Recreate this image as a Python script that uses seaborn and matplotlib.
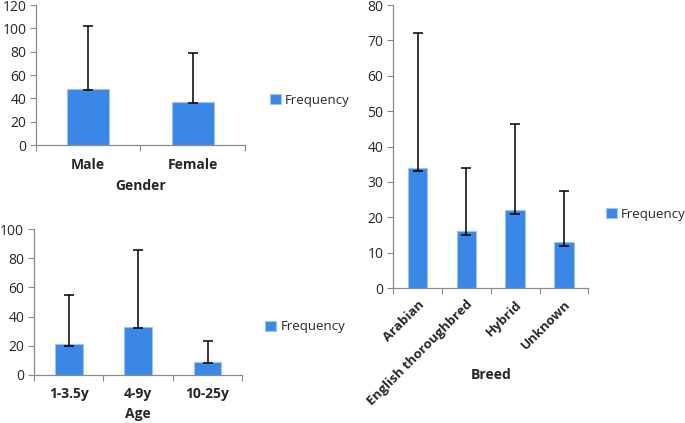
import numpy as np
import pandas as pd
import matplotlib
matplotlib.use("Agg")
import matplotlib.pyplot as plt
import seaborn as sns

# --- data ---
gender_cats = ["Male", "Female"]
gender_freq = [48, 37]
gender_low = [47, 36]
gender_high = [102, 78.5]

age_cats = ["1-3.5y", "4-9y", "10-25y"]
age_freq = [21, 33, 9]
age_low = [20, 32, 8]
age_high = [54.5, 85.5, 23]

breed_cats = ["Arabian", "English thoroughbred", "Hybrid", "Unknown"]
breed_freq = [34, 16, 22, 13]
breed_low = [33, 15, 21, 12]
breed_high = [72, 34, 46.5, 27.5]

bar_color = "#3B87E8"
spine_color = "#8a8a8a"
fs = 10

sns.set_theme(style="white")
plt.rcParams["font.family"] = ["Open Sans", "DejaVu Sans"]

fig = plt.figure(figsize=(6.85, 4.23), dpi=100)


def draw_panel(rect, cats, freq, low, high, xlabel, ymax, ystep, leg_pos,
               label_y, rotate=False):
    ax = fig.add_axes(rect)
    df = pd.DataFrame({"cat": cats, "freq": freq})
    sns.barplot(data=df, x="cat", y="freq", color=bar_color, width=0.4,
                saturation=1, label="Frequency", ax=ax,
                edgecolor="#9cc3f5", linewidth=0.8)
    x = np.arange(len(cats))
    f = np.array(freq)
    # error bars: small cap just under the bar top, long whisker upwards
    ax.errorbar(x, f, yerr=[f - np.array(low), np.array(high) - f],
                fmt="none", ecolor="black", elinewidth=1.1, capsize=3.5, capthick=1.1)
    ax.set_xlim(-0.5, len(cats) - 0.5)
    ax.set_ylim(0, ymax)
    ax.set_yticks(np.arange(0, ymax + 1, ystep))
    ax.tick_params(axis="y", labelsize=fs, length=4, width=0.8,
                   color=spine_color, direction="out", left=True, pad=3)
    ax.set_xticks(x)
    ax.set_xticks(np.arange(len(cats) + 1) - 0.5, minor=True)
    ax.tick_params(axis="x", which="major", length=0, pad=9 if not rotate else 7)
    ax.tick_params(axis="x", which="minor", length=4, width=0.8,
                   color=spine_color, direction="out", bottom=True)
    if rotate:
        ax.set_xticklabels(cats, rotation=45, ha="right", rotation_mode="anchor",
                           fontsize=9.5, fontweight="bold")
    else:
        ax.set_xticklabels(cats, fontsize=fs, fontweight="bold")
    ax.set_xlabel(xlabel, fontsize=fs, fontweight="bold")
    ax.xaxis.set_label_coords(0.5, label_y)
    ax.set_ylabel("")
    for s in ["top", "right"]:
        ax.spines[s].set_visible(False)
    for s in ["left", "bottom"]:
        ax.spines[s].set_color(spine_color)
        ax.spines[s].set_linewidth(0.9)
    ax.legend(loc="center left", bbox_to_anchor=leg_pos, frameon=False,
              fontsize=9.5, handlelength=0.8, handleheight=0.8, handletextpad=0.35,
              borderaxespad=0, borderpad=0)
    return ax


draw_panel([0.0526, 0.657, 0.305, 0.331], gender_cats, gender_freq, gender_low,
           gender_high, "Gender", 120, 20, (1.12, 0.32), -0.24)
draw_panel([0.0496, 0.1135, 0.304, 0.345], age_cats, age_freq, age_low,
           age_high, "Age", 100, 20, (1.11, 0.33), -0.22)
draw_panel([0.574, 0.319, 0.285, 0.669], breed_cats, breed_freq, breed_low,
           breed_high, "Breed", 80, 10, (1.09, 0.26), -0.283, rotate=True)

fig.savefig("out.png", dpi=100)
